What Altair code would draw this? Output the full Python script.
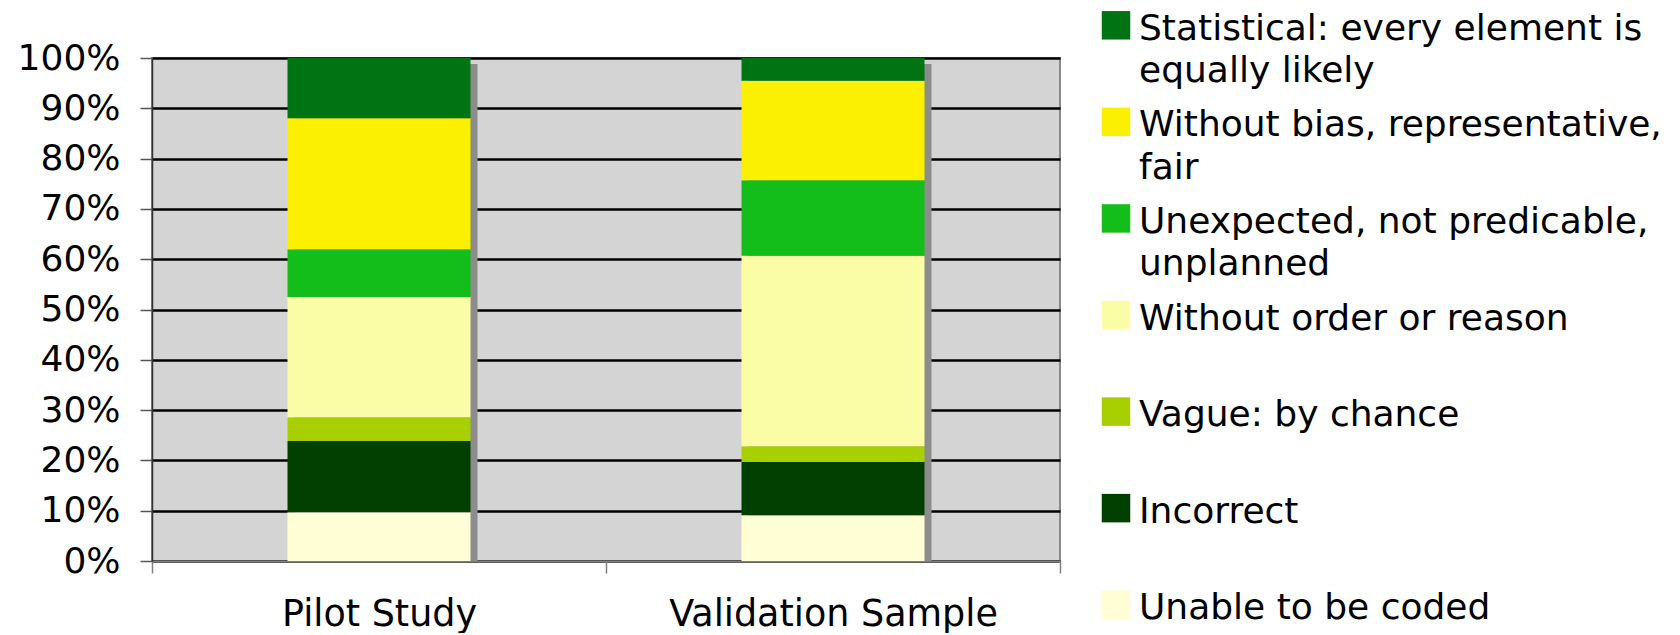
import altair as alt
import pandas as pd

groups = ["Pilot Study", "Validation Sample"]
categories = [
    "Unable to be coded",
    "Incorrect",
    "Vague: by chance",
    "Without order or reason",
    "Unexpected, not predicable, unplanned",
    "Without bias, representative, fair",
    "Statistical: every element is equally likely",
]
legend_labels = [
    "Unable to be coded",
    "Incorrect",
    "Vague: by chance",
    "Without order or reason",
    "Unexpected, not predicable,\nunplanned",
    "Without bias, representative,\nfair",
    "Statistical: every element is\nequally likely",
]
pilot = [9.7, 14.15, 4.75, 23.9, 9.5, 26.0, 12.0]
validation = [9.1, 10.6, 3.1, 37.9, 15.0, 19.8, 4.5]
colors = ["#FFFED5", "#024002", "#A8D000", "#FAFCA6", "#14BE1A", "#FAF000", "#007413"]
y_ticks = [0, 10, 20, 30, 40, 50, 60, 70, 80, 90, 100]

rows = []
for g, vals in zip(groups, [pilot, validation]):
    for i, (c, v) in enumerate(zip(categories, vals)):
        rows.append({"group": g, "category": c, "value": v, "order": i})
df = pd.DataFrame(rows)

leg_df = pd.DataFrame({
    "category": categories,
    "label": legend_labels,
    "idx": [6 - i for i in range(len(categories))],
    "lx": [0] * len(categories),
})

FONT = "DejaVu Sans"

color = alt.Color("category:N", scale=alt.Scale(domain=categories, range=colors), legend=None)

x_axis = alt.Axis(
    labelAngle=0, labelFontSize=36.5, labelFont=FONT, labelColor="black", labelPadding=23,
    labelLimit=0, tickBand="extent", tickSize=12, tickColor="#808080", tickWidth=1.5,
    domainColor="#808080", domainWidth=2, title=None, grid=False,
)
y_axis = alt.Axis(
    values=y_ticks, labelExpr="datum.value + '%'", grid=True, gridColor="black",
    gridWidth=2.5, tickSize=12, tickColor="#555555", tickWidth=1.5, domainColor="#333333",
    domainWidth=1.5, labelFontSize=36, labelFont=FONT, labelColor="black",
    labelPadding=20, title=None,
)
x_scale = alt.Scale(domain=groups, paddingInner=0, paddingOuter=0)
y_scale = alt.Scale(domain=[0, 100], nice=False)

base = alt.Chart(df)

shadow = base.transform_aggregate(
    total="sum(value)", groupby=["group"]
).mark_bar(size=183, color="#8c8c8c", xOffset=7, x2Offset=7, yOffset=6, clip=True).encode(
    x=alt.X("group:N", scale=x_scale, axis=x_axis, sort=groups),
    y=alt.Y("total:Q", scale=y_scale, axis=y_axis),
)

bars = base.mark_bar(size=183).encode(
    x=alt.X("group:N", scale=x_scale, axis=x_axis, sort=groups),
    y=alt.Y("value:Q", stack="zero", scale=y_scale, axis=y_axis),
    color=color,
    order=alt.Order("order:Q", sort="ascending"),
)

lx = alt.X("lx:Q", scale=alt.Scale(domain=[0, 1], range=[964, 1500], nice=False, zero=False), axis=None)
ly = alt.Y("idx:Q", scale=alt.Scale(domain=[0, 6], range=[-32.7, 546.7], nice=False, zero=False), axis=None)

leg_sq = alt.Chart(leg_df).mark_square(size=812, opacity=1).encode(x=lx, y=ly, color=color)
leg_tx = alt.Chart(leg_df).mark_text(
    align="left", baseline="alphabetic", dx=23, dy=14.5, fontSize=36, font=FONT,
    lineBreak="\n", lineHeight=42.4, color="black",
).encode(x=lx, y=ly, text="label:N")

chart = alt.layer(
    alt.layer(shadow, bars),
    alt.layer(leg_sq, leg_tx),
).resolve_scale(x="independent", y="independent").properties(
    width=908, height=503,
    padding={"left": 9, "top": 2, "right": 0, "bottom": 0},
).configure_view(fill="#d4d4d4", stroke="#8a8a8a", strokeWidth=2)

chart.save("out.html", embed_options={"renderer": "svg", "actions": False})
